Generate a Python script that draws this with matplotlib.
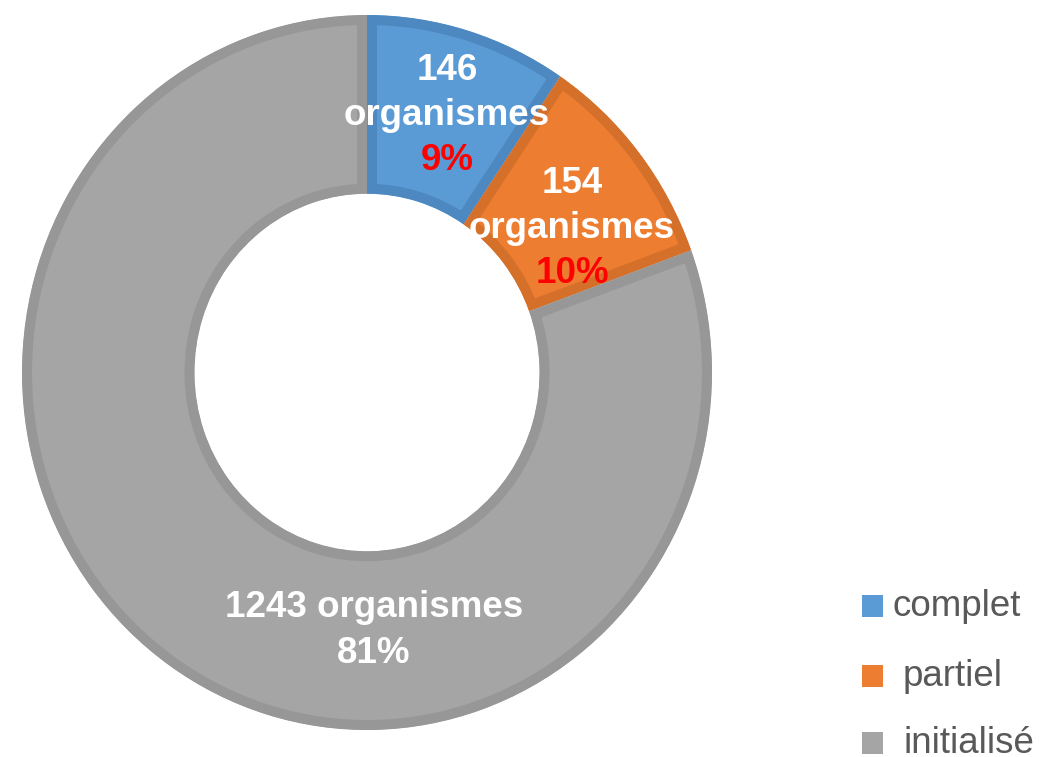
import matplotlib.pyplot as plt

categories = ["complet", "partiel", "initialisé"]
counts = [146, 154, 1243]
pct_labels = ["9%", "10%", "81%"]

fill_colors = ["#5B9BD5", "#ED7D31", "#A5A5A5"]
edge_colors = ["#4D88C0", "#D5702B", "#979797"]

W, H = 1040, 757
fig = plt.figure(figsize=(W / 100, H / 100), dpi=100)
plt.rcParams['font.family'] = ['Liberation Sans', 'DejaVu Sans']

# donut box in pixels (left, top, right, bottom)
L, T, R, B = 22, 15, 712, 730
ax = fig.add_axes([L / W, 1 - B / H, (R - L) / W, (B - T) / H])

wedges, _ = ax.pie(counts, colors=fill_colors, startangle=90, counterclock=False,
                   radius=1.0, wedgeprops=dict(width=0.5, linewidth=14.4))
for w, ec in zip(wedges, edge_colors):
    w.set_edgecolor(ec)
    w.set_clip_path(w)  # keep the border inside each slice
    w.set_clip_on(True)
ax.set_aspect('auto')
ax.set_xlim(-1, 1)
ax.set_ylim(-1, 1)
ax.axis('off')


def fx(x):
    return x / W


def fy(y):
    return 1 - y / H


# slice labels: baseline pixel positions
lab_font = dict(fontsize=26.5, fontweight='bold', ha='center', va='baseline')
fig.text(fx(447), fy(80), str(counts[0]), color='white', **lab_font)
fig.text(fx(447), fy(125), "organismes", color='white', **lab_font)
fig.text(fx(447), fy(170), pct_labels[0], color='#FF0000', **lab_font)

fig.text(fx(572), fy(193), str(counts[1]), color='white', **lab_font)
fig.text(fx(572), fy(238), "organismes", color='white', **lab_font)
fig.text(fx(572), fy(283), pct_labels[1], color='#FF0000', **lab_font)

fig.text(fx(374), fy(617), f"{counts[2]} organismes", color='white', **lab_font)
fig.text(fx(374), fy(663), pct_labels[2], color='white', **lab_font)

# legend
leg_y = [606, 676, 743]
leg_tx = [893, 903, 903]
for cat, col, yc, tx in zip(categories, fill_colors, leg_y, leg_tx):
    fig.add_artist(plt.Rectangle((fx(862), fy(yc + 11)), 21 / W, 22 / H,
                                 transform=fig.transFigure, facecolor=col,
                                 edgecolor='none'))
    fig.text(fx(tx), fy(yc + 10), cat, fontsize=26.5, color='#595959',
             ha='left', va='baseline')

fig.savefig("out.png", dpi=100, facecolor='white')
